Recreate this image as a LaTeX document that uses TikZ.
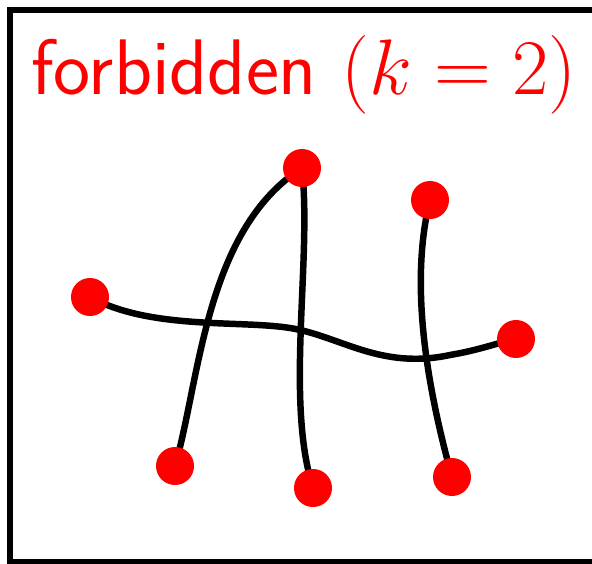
\RequirePackage{fix-cm}
\documentclass[tikz,border=0pt]{standalone}
\usepackage{amsmath,amssymb}
\usepackage{tikz}
\usetikzlibrary{calc,positioning}
\usepackage{xcolor}
\definecolor{myred}{RGB}{255,0,0}

\begin{document}
\begin{tikzpicture}[x=0.025cm,y=-0.025cm,
  dot/.style={circle, fill=myred, inner sep=0pt, minimum size=0.95cm},
  strand/.style={line width=4.6pt, black}]
  \useasboundingbox (0,0) rectangle (592,564);
  \clip (0,0) rectangle (592,564);
  \draw[line width=3.6pt] (10,10) rectangle (640,562);

  \node[anchor=base west, text=myred, inner sep=0pt] (title) at (31,95)
    {\fontsize{56}{62}\selectfont\sffamily forbidden $(k=2)$};

  % strands
  \coordinate (a) at (302,168);
  \coordinate (b) at (430,200);
  \coordinate (c) at (90,297);
  \coordinate (d) at (516,339);
  \coordinate (e) at (175,466);
  \coordinate (f) at (313,488);
  \coordinate (g) at (452,477);

  \draw[strand] (e) .. controls (200,380) and (205,230) .. (a);
  \draw[strand] (a) .. controls (312,260) and (285,400) .. (f);
  \draw[strand] (b) .. controls (410,280) and (425,380) .. (g);
  \draw[strand] (c) .. controls (150,330) and (240,320) .. (290,328)
                    .. controls (340,336) and (380,370) .. (450,355)
                    .. controls (480,350) and (500,342) .. (d);

  % endpoints
  \node[dot] (na) at (a) {};
  \node[dot] (nb) at (b) {};
  \node[dot] (nc) at (c) {};
  \node[dot] (nd) at (d) {};
  \node[dot] (ne) at (e) {};
  \node[dot] (nf) at (f) {};
  \node[dot] (ng) at (g) {};
\end{tikzpicture}
\end{document}
